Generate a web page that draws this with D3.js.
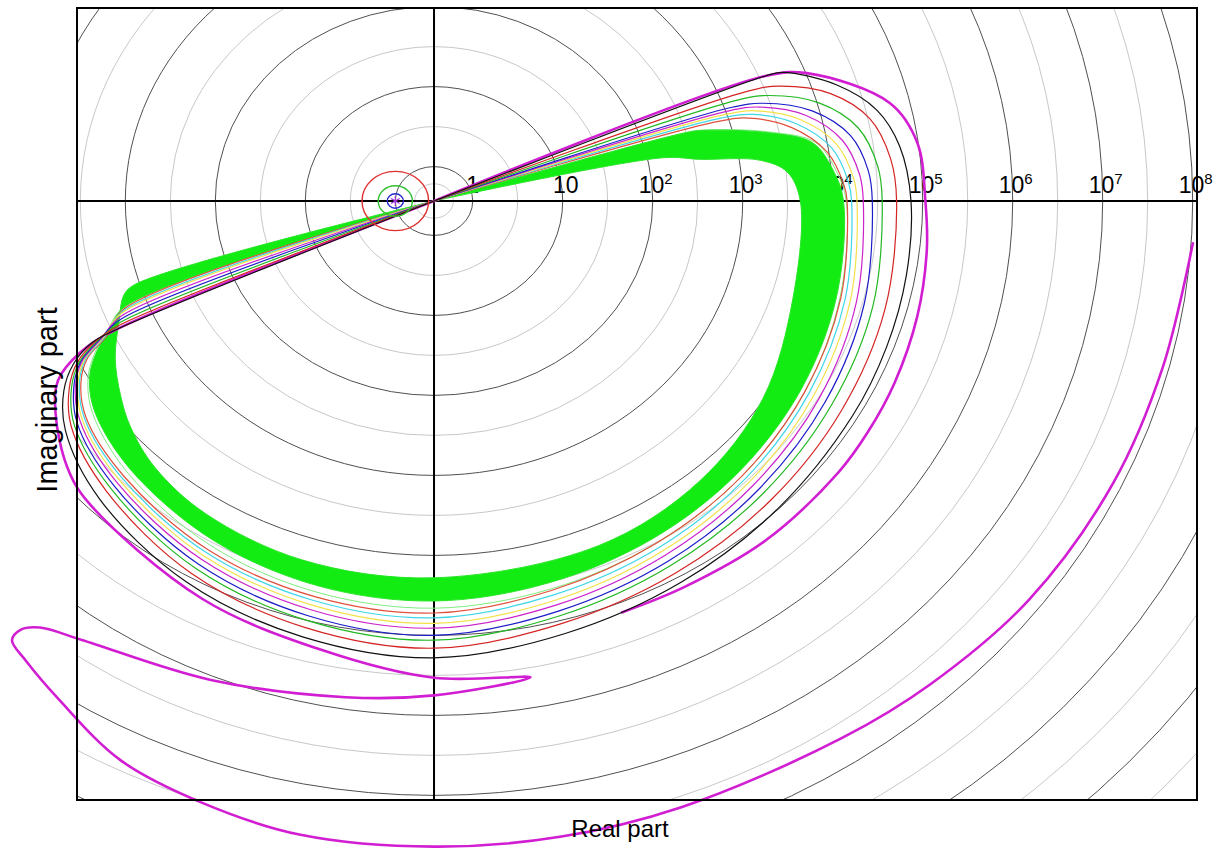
<!DOCTYPE html>
<html>
<head>
<meta charset="utf-8">
<script src="https://cdn.jsdelivr.net/npm/d3@7"></script>
<style>
  body { margin: 0; background: #fff; }
  text { font-family: "Liberation Sans", Arial, Helvetica, sans-serif; fill: #000; }
</style>
</head>
<body>
<div id="chart"></div>
<script>
// log-polar nyquist: every point is [phase in degrees, log10 |G|]
var majorRings = [0, 1, 2, 3, 4, 5, 6, 7, 8, 9, 10, 11];
var minorRings = [-0.5, 0.5, 1.5, 2.5, 3.5, 4.5, 5.5, 6.5, 7.5, 8.5, 9.5, 10.5, 11.5];
var tickVals = [0, 1, 2, 3, 4, 5, 6, 7, 8];
var tickBase = ["1", "10", "10", "10", "10", "10", "10", "10", "10"];
var tickExp = ["", "", "2", "3", "4", "5", "6", "7", "8"];

var greenOuter = [[17,-1],[17,2.47],[16.5,2.67],[13,3.37],[9.8,3.84],[5,4.02],[0,4.12],[-15,4.20],[-30,4.28],[-45,4.36],[-60,4.44],[-75,4.51],[-90,4.57],[-105,4.55],[-120,4.47],[-135,4.33],[-145,4.17],[-150,3.99],[-153,3.79],[-156,3.52],[-159,3.24],[-159,-1]];
var greenInner = [[12,-1],[12,2.17],[10,2.57],[8,3.23],[5.3,3.51],[0,3.64],[-17,3.74],[-34,3.98],[-50,4.15],[-67,4.25],[-90,4.28],[-108,4.29],[-123,4.23],[-133,4.12],[-140,3.97],[-145,3.82],[-151,3.62],[-157,3.37],[-161,3.22],[-162.5,3.07],[-162.5,-1]];
// outermost green strands, lighter at the bottom of the band
var greenEdge = [[17,-1],[17,2.5],[16.5,2.7],[13,3.4],[9.8,3.87],[5,4.05],[0,4.15],[-15,4.24],[-30,4.33],[-45,4.42],[-60,4.51],[-75,4.59],[-90,4.66],[-105,4.63],[-120,4.54],[-135,4.38],[-145,4.2],[-150,4.01],[-153,3.81],[-156,3.54],[-159,3.25],[-159,-1]];

var red2Curve = [[17.5,-1],[17.5,2.87],[16.5,3.22],[13,3.65],[8,3.98],[2.5,4.13],[0,4.16],[-15,4.25],[-30,4.33],[-45,4.42],[-60,4.51],[-75,4.61],[-90,4.72],[-105,4.69],[-120,4.60],[-135,4.44],[-145,4.29],[-150,4.10],[-153,3.89],[-155,3.59],[-158.6,3.27],[-158.6,-1]];
var cyanCurve = [[18,-1],[18,2.92],[17,3.27],[13.5,3.71],[8.5,4.04],[3,4.18],[0,4.21],[-15,4.30],[-30,4.38],[-45,4.47],[-60,4.57],[-75,4.67],[-90,4.78],[-105,4.74],[-120,4.64],[-135,4.47],[-145,4.31],[-150,4.12],[-153,3.91],[-155,3.61],[-158.3,3.29],[-158.3,-1]];
var yellowCurve = [[18.5,-1],[18.5,2.97],[17.5,3.32],[14,3.77],[9,4.10],[3.5,4.24],[0,4.27],[-15,4.36],[-30,4.44],[-45,4.53],[-60,4.63],[-75,4.74],[-90,4.85],[-105,4.80],[-120,4.69],[-135,4.51],[-145,4.34],[-150,4.14],[-153,3.93],[-155,3.63],[-158,3.31],[-158,-1]];
var magentaCurve = [[19,-1],[19,3.02],[18,3.37],[14.5,3.84],[9.5,4.17],[4,4.31],[0,4.34],[-15,4.43],[-30,4.51],[-45,4.59],[-60,4.69],[-75,4.80],[-90,4.91],[-105,4.86],[-120,4.74],[-135,4.55],[-145,4.37],[-150,4.17],[-153,3.95],[-155,3.65],[-157.5,3.33],[-157.5,-1]];
var blueCurve = [[19.5,-1],[19.5,3.07],[18.5,3.42],[15,3.92],[10,4.27],[4.5,4.41],[0,4.44],[-15,4.52],[-30,4.59],[-45,4.67],[-60,4.77],[-75,4.88],[-90,5.00],[-105,4.94],[-120,4.81],[-135,4.60],[-145,4.41],[-150,4.19],[-153,3.97],[-155,3.67],[-157,3.35],[-157,-1]];
var greenCurve = [[20.5,-1],[20.5,3.17],[19.5,3.52],[16,4.02],[11,4.37],[5,4.52],[0,4.55],[-15,4.62],[-30,4.67],[-45,4.74],[-60,4.83],[-75,4.94],[-90,5.06],[-105,5.00],[-120,4.87],[-135,4.65],[-145,4.45],[-150,4.22],[-153,3.99],[-155,3.69],[-156.5,3.37],[-156.5,-1]];
var redCurve = [[21.5,-1],[21.5,3.32],[20.5,3.67],[17,4.17],[12,4.52],[6,4.67],[0,4.71],[-15,4.76],[-30,4.80],[-45,4.86],[-60,4.94],[-75,5.04],[-90,5.16],[-105,5.09],[-120,4.95],[-135,4.71],[-145,4.49],[-150,4.25],[-153,4.02],[-155,3.72],[-156,3.42],[-156,-1]];
var blackCurve = [[23,-1],[23,3.57],[22.5,3.77],[18,4.27],[13,4.62],[7.5,4.79],[0,4.87],[-10,4.90],[-20,4.92],[-30,4.94],[-45,4.99],[-60,5.07],[-75,5.17],[-90,5.28],[-105,5.21],[-120,5.07],[-135,4.83],[-145,4.57],[-150,4.32],[-153,4.07],[-155,3.77],[-155.5,3.47],[-155.5,-1]];

// thick magenta: upper part runs out along the ray and rejoins the black loop
var thickUpper = [[23,-1],[23,3.57],[21.1,4.01],[13.6,4.78],[7.7,4.99],[0,5.03],[-6.4,5.08],[-15,5.13],[-24,5.17],[-31,5.19],[-37,5.2],[-49,5.19],[-60,5.14],[-68,5.12]];
var thickLower = [[-3.5,8.02],[-14.4,7.93],[-25,7.90],[-37,7.85],[-47.6,7.75],[-56,7.67],[-70,7.63],[-80,7.64],[-90,7.64],[-100.6,7.63],[-109,7.52],[-116.5,7.38],[-123.7,7.07],[-128.3,6.89],[-130.5,6.79],[-130.6,6.63],[-129.4,6.47],[-125.5,6.31],[-112.5,6.05],[-99,5.85],[-90,5.75],[-79.8,5.62],[-90,5.53],[-102.5,5.32],[-117.4,5.17],[-135.6,4.95],[-140.8,4.83],[-147.8,4.54],[-151.8,4.31],[-154.3,3.93],[-155.5,3.47],[-155.5,-1]];

// circles round the -1 point: [radius in decades, colour]
var critCircles = [[0.37, "#e03030"], [0.19, "#30c030"], [0.09, "#2828d0"]];

var thinCurves = [
  [red2Curve, "#e0503c"],
  [cyanCurve, "#3fd6e6"],
  [yellowCurve, "#f2e24a"],
  [magentaCurve, "#cc22cc"],
  [blueCurve, "#1c1cc8"],
  [greenCurve, "#22b822"],
  [redCurve, "#d42424"],
  [blackCurve, "#111111"],
];

var width = 1220;
var height = 852;
var f = { l: 77, t: 8, r: 1197, b: 800 };

var svg = d3
  .select("#chart")
  .append("svg")
  .attr("width", width)
  .attr("height", height);

// 90 px per decade across, 80 px per decade down
var x = d3.scaleLinear().domain([-3.967, 8.478]).range([f.l, f.r]);
var y = d3.scaleLinear().domain([2.4125, -7.4875]).range([f.t, f.b]);
var rho = d3.scaleLinear().domain([-1, 0, 12]).range([0, 0.43, 12.43]).clamp(true);

function proj(d) {
  var r = rho(d[1]);
  var a = (d[0] * Math.PI) / 180;
  return [x(r * Math.cos(a)), y(r * Math.sin(a))];
}

var line = d3
  .line()
  .x((d) => proj(d)[0])
  .y((d) => proj(d)[1])
  .curve(d3.curveCatmullRom.alpha(0.5));

svg
  .append("clipPath")
  .attr("id", "frameClip")
  .append("rect")
  .attr("x", f.l)
  .attr("y", f.t)
  .attr("width", f.r - f.l)
  .attr("height", f.b - f.t);

var grid = svg.append("g").attr("clip-path", "url(#frameClip)");

grid
  .selectAll(".minor")
  .data(minorRings)
  .enter()
  .append("ellipse")
  .attr("cx", x(0))
  .attr("cy", y(0))
  .attr("rx", (d) => x(rho(d)) - x(0))
  .attr("ry", (d) => y(0) - y(rho(d)))
  .attr("fill", "none")
  .attr("stroke", "#c8c8c8")
  .attr("stroke-width", 1);

grid
  .selectAll(".major")
  .data(majorRings)
  .enter()
  .append("ellipse")
  .attr("cx", x(0))
  .attr("cy", y(0))
  .attr("rx", (d) => x(rho(d)) - x(0))
  .attr("ry", (d) => y(0) - y(rho(d)))
  .attr("fill", "none")
  .attr("stroke", "#505050")
  .attr("stroke-width", 1);

// axes through the origin
svg.append("line")
  .attr("x1", f.l).attr("x2", f.r)
  .attr("y1", y(0)).attr("y2", y(0))
  .attr("stroke", "#000").attr("stroke-width", 2);
svg.append("line")
  .attr("x1", x(0)).attr("x2", x(0))
  .attr("y1", f.t).attr("y2", f.b)
  .attr("stroke", "#000").attr("stroke-width", 2);

// magnitude labels along the positive real axis
var labels = svg
  .selectAll(".tick")
  .data(tickVals)
  .enter()
  .append("text")
  .attr("x", (d, i) => x(rho(d)) + (i === 0 ? 0 : 3))
  .attr("y", y(0) - 8)
  .attr("text-anchor", "middle")
  .style("font-size", "23px");
labels.append("tspan").text((d, i) => tickBase[i]);
labels
  .append("tspan")
  .attr("dy", -9)
  .style("font-size", "15px")
  .text((d, i) => tickExp[i]);

// band of green curves: area between largest and smallest loop
svg
  .append("path")
  .attr("d", line(greenEdge))
  .attr("fill", "none")
  .attr("stroke", "#7fec7f")
  .attr("stroke-width", 1);
svg
  .append("path")
  .attr("d", line(greenOuter) + "Z" + line(greenInner) + "Z")
  .attr("fill", "#12ec12")
  .attr("fill-rule", "evenodd")
  .attr("stroke", "#2ae62a")
  .attr("stroke-width", 1);

svg
  .append("path")
  .attr("d", line(thickLower))
  .attr("fill", "none")
  .attr("stroke", "#d21ed2")
  .attr("stroke-width", 2.6);
svg
  .append("path")
  .attr("d", line(thickUpper))
  .attr("fill", "none")
  .attr("stroke", "#d21ed2")
  .attr("stroke-width", 2.6);

thinCurves.forEach((c) => {
  svg
    .append("path")
    .attr("d", line(c[0]))
    .attr("fill", "none")
    .attr("stroke", c[1])
    .attr("stroke-width", 1.2);
});

// -1 point
var minusOne = proj([180, 0]);
svg
  .selectAll(".crit")
  .data(critCircles)
  .enter()
  .append("ellipse")
  .attr("cx", minusOne[0])
  .attr("cy", minusOne[1])
  .attr("rx", (d) => x(d[0]) - x(0))
  .attr("ry", (d) => y(0) - y(d[0]))
  .attr("fill", "none")
  .attr("stroke", (d) => d[1])
  .attr("stroke-width", 1.4);
svg
  .append("path")
  .attr("d", d3.symbol(d3.symbolAsterisk, 70)())
  .attr("transform", `translate(${minusOne[0]},${minusOne[1]})`)
  .attr("fill", "none")
  .attr("stroke", "#9a30d8")
  .attr("stroke-width", 1.2);

svg
  .append("rect")
  .attr("x", f.l)
  .attr("y", f.t)
  .attr("width", f.r - f.l)
  .attr("height", f.b - f.t)
  .attr("fill", "none")
  .attr("stroke", "#000")
  .attr("stroke-width", 2);

svg
  .append("text")
  .attr("x", 620)
  .attr("y", 837)
  .attr("text-anchor", "middle")
  .style("font-size", "24px")
  .text("Real part");

svg
  .append("text")
  .attr("transform", "translate(57,400) rotate(-90)")
  .attr("text-anchor", "middle")
  .style("font-size", "29px")
  .text("Imaginary part");
</script>
</body>
</html>
